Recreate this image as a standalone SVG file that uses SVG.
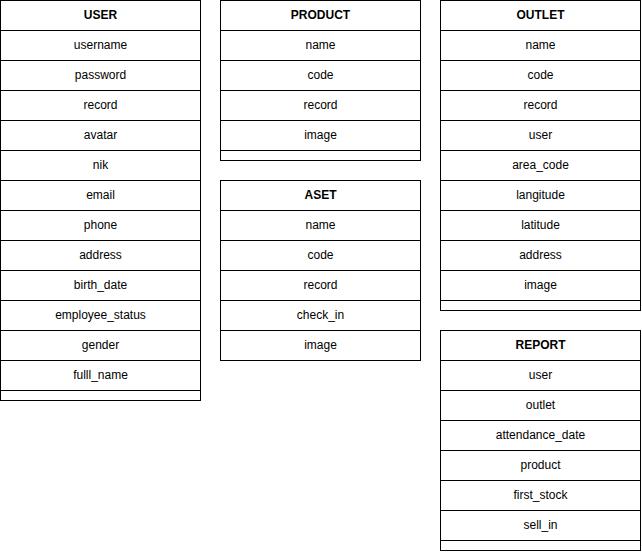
<svg xmlns="http://www.w3.org/2000/svg" width="642" height="552" viewBox="0 0 642 552">
<style>
rect{fill:#fff;stroke:#000;stroke-width:1}
text{font-family:"Liberation Sans",Arial,sans-serif;font-size:12px;fill:#000;text-anchor:middle}
.h{font-weight:bold}
</style>
<rect x="0" y="0" width="642" height="552" style="stroke:none"/>
<g id="user" transform="translate(0.5,-0.5)">
<rect x="0" y="1" width="200" height="400"/>
<rect x="0" y="1" width="200" height="30"/><text class="h" x="100" y="19">USER</text>
<rect x="0" y="31" width="200" height="30"/><text x="100" y="49">username</text>
<rect x="0" y="61" width="200" height="30"/><text x="100" y="79">password</text>
<rect x="0" y="91" width="200" height="30"/><text x="100" y="109">record</text>
<rect x="0" y="121" width="200" height="30"/><text x="100" y="139">avatar</text>
<rect x="0" y="151" width="200" height="30"/><text x="100" y="169">nik</text>
<rect x="0" y="181" width="200" height="30"/><text x="100" y="199">email</text>
<rect x="0" y="211" width="200" height="30"/><text x="100" y="229">phone</text>
<rect x="0" y="241" width="200" height="30"/><text x="100" y="259">address</text>
<rect x="0" y="271" width="200" height="30"/><text x="100" y="289">birth_date</text>
<rect x="0" y="301" width="200" height="30"/><text x="100" y="319">employee_status</text>
<rect x="0" y="331" width="200" height="30"/><text x="100" y="349">gender</text>
<rect x="0" y="361" width="200" height="30"/><text x="100" y="379">fulll_name</text>
</g>
<g id="product" transform="translate(220.5,-0.5)">
<rect x="0" y="1" width="200" height="160"/>
<rect x="0" y="1" width="200" height="30"/><text class="h" x="100" y="19">PRODUCT</text>
<rect x="0" y="31" width="200" height="30"/><text x="100" y="49">name</text>
<rect x="0" y="61" width="200" height="30"/><text x="100" y="79">code</text>
<rect x="0" y="91" width="200" height="30"/><text x="100" y="109">record</text>
<rect x="0" y="121" width="200" height="30"/><text x="100" y="139">image</text>
</g>
<g id="aset" transform="translate(220.5,179.5)">
<rect x="0" y="1" width="200" height="180"/>
<rect x="0" y="1" width="200" height="30"/><text class="h" x="100" y="19">ASET</text>
<rect x="0" y="31" width="200" height="30"/><text x="100" y="49">name</text>
<rect x="0" y="61" width="200" height="30"/><text x="100" y="79">code</text>
<rect x="0" y="91" width="200" height="30"/><text x="100" y="109">record</text>
<rect x="0" y="121" width="200" height="30"/><text x="100" y="139">check_in</text>
<rect x="0" y="151" width="200" height="30"/><text x="100" y="169">image</text>
</g>
<g id="outlet" transform="translate(440.5,-0.5)">
<rect x="0" y="1" width="200" height="310"/>
<rect x="0" y="1" width="200" height="30"/><text class="h" x="100" y="19">OUTLET</text>
<rect x="0" y="31" width="200" height="30"/><text x="100" y="49">name</text>
<rect x="0" y="61" width="200" height="30"/><text x="100" y="79">code</text>
<rect x="0" y="91" width="200" height="30"/><text x="100" y="109">record</text>
<rect x="0" y="121" width="200" height="30"/><text x="100" y="139">user</text>
<rect x="0" y="151" width="200" height="30"/><text x="100" y="169">area_code</text>
<rect x="0" y="181" width="200" height="30"/><text x="100" y="199">langitude</text>
<rect x="0" y="211" width="200" height="30"/><text x="100" y="229">latitude</text>
<rect x="0" y="241" width="200" height="30"/><text x="100" y="259">address</text>
<rect x="0" y="271" width="200" height="30"/><text x="100" y="289">image</text>
</g>
<g id="report" transform="translate(440.5,329.5)">
<rect x="0" y="1" width="200" height="220"/>
<rect x="0" y="1" width="200" height="30"/><text class="h" x="100" y="19">REPORT</text>
<rect x="0" y="31" width="200" height="30"/><text x="100" y="49">user</text>
<rect x="0" y="61" width="200" height="30"/><text x="100" y="79">outlet</text>
<rect x="0" y="91" width="200" height="30"/><text x="100" y="109">attendance_date</text>
<rect x="0" y="121" width="200" height="30"/><text x="100" y="139">product</text>
<rect x="0" y="151" width="200" height="30"/><text x="100" y="169">first_stock</text>
<rect x="0" y="181" width="200" height="30"/><text x="100" y="199">sell_in</text>
</g>
<g id="connectors"/>
</svg>
